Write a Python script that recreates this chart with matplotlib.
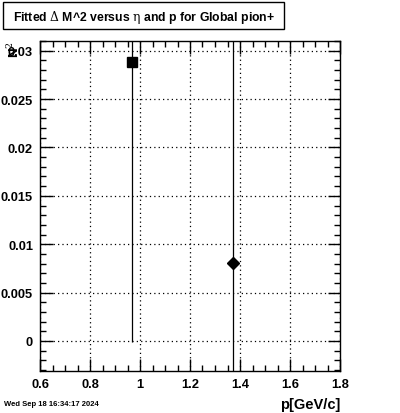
import matplotlib.pyplot as plt
from matplotlib.patches import Rectangle
from matplotlib.ticker import MultipleLocator, FuncFormatter

# data
momentum = [0.968, 1.372]
delta_m2 = [0.02886, 0.00807]
delta_m2_err = [0.0290, 0.0350]
markers = ["s", "D"]
marker_sizes = [6.5, 6.0]

title = "Fitted $\\Delta$ M^2 versus $\\mathrm{\\eta}$ and p for Global pion+"
x_label = "p[GeV/c]"
y_label = "N$^2$"
stamp = "Wed Sep 18 16:34:17 2024"

plt.rcParams["font.family"] = ["Liberation Sans", "DejaVu Sans"]
plt.rcParams["mathtext.fontset"] = "dejavuserif"

W, H = 400, 414
fig = plt.figure(figsize=(W / 100, H / 100), dpi=100)
ax = fig.add_axes([40 / W, 1 - 372 / H, 300 / W, 330 / H])

for x, y, err, m, ms in zip(momentum, delta_m2, delta_m2_err, markers, marker_sizes):
    ax.errorbar(x, y, yerr=err, fmt=m, color="black", markersize=ms,
                elinewidth=0.9, capsize=0)

ax.set_xlim(0.6, 1.8)
ax.set_ylim(-0.0031, 0.0310)
ax.xaxis.set_major_locator(MultipleLocator(0.2))
ax.xaxis.set_minor_locator(MultipleLocator(0.05))
ax.yaxis.set_major_locator(MultipleLocator(0.005))
ax.yaxis.set_minor_locator(MultipleLocator(0.001))
ax.xaxis.set_major_formatter(FuncFormatter(lambda v, p: f"{v:g}"))
ax.yaxis.set_major_formatter(FuncFormatter(lambda v, p: "0" if abs(v) < 1e-9 else f"{v:g}"))
ax.tick_params(which="both", direction="in", top=True, right=True)
ax.tick_params(which="major", length=9, width=1)
ax.tick_params(which="minor", length=4.5, width=1)
ax.tick_params(axis="both", labelsize=9.3)
ax.tick_params(axis="x", pad=5)
ax.tick_params(axis="y", pad=5)
for lab in ax.get_xticklabels() + ax.get_yticklabels():
    lab.set_fontweight("bold")
ax.grid(True, which="major", linestyle=(0, (1, 2.5)), color="black", linewidth=0.9)
for s in ax.spines.values():
    s.set_linewidth(1)

# title box
fig.patches.append(Rectangle((3 / W, 1 - 30 / H), 281 / W, 27 / H, transform=fig.transFigure,
                             facecolor="white", edgecolor="black", linewidth=1))
fig.text(13 / W, 1 - 17 / H, title, fontsize=8.8, fontweight="bold", va="center", ha="left")

fig.text(340 / W, 1 - 405 / H, x_label, fontsize=10.5, fontweight="bold", va="center", ha="right")
fig.text(14 / W, 1 - 41 / H, y_label, fontsize=9.5, fontweight="bold", va="top", ha="center",
         rotation=90)
fig.text(4 / W, 1 - 405 / H, stamp, fontsize=5.5, fontweight="bold", va="center", ha="left")

fig.savefig("out.png", dpi=100)
